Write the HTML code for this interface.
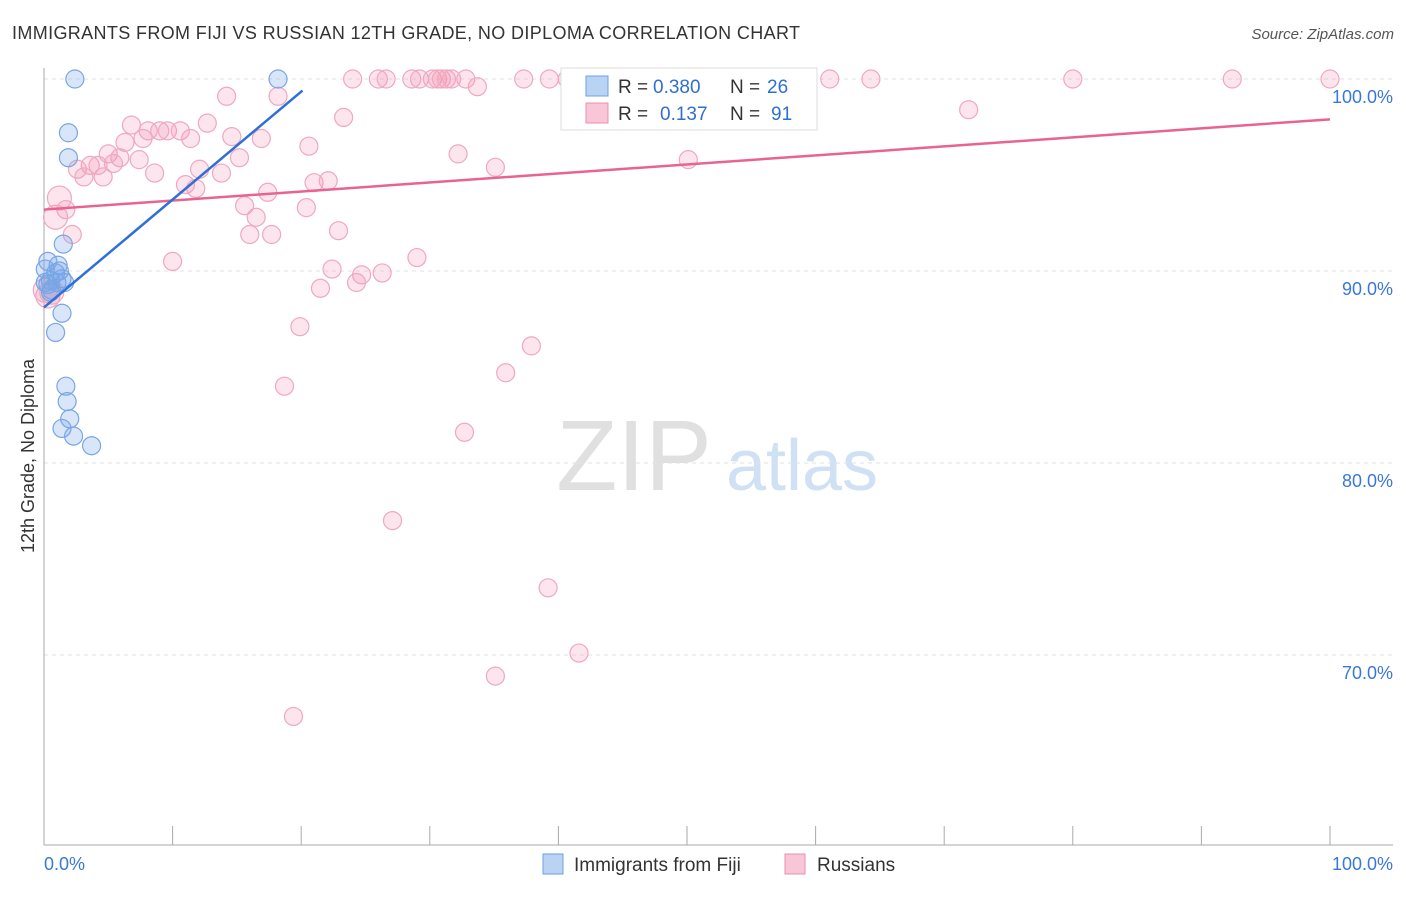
<!DOCTYPE html>
<html><head><meta charset="utf-8"><style>
body{margin:0;background:#fff;font-family:"Liberation Sans",sans-serif;}
svg text{font-family:"Liberation Sans",sans-serif;}
</style></head><body>
<svg id="c" width="1406" height="892">
<text x="12" y="39" font-size="18" fill="#333" textLength="788">IMMIGRANTS FROM FIJI VS RUSSIAN 12TH GRADE, NO DIPLOMA CORRELATION CHART</text>
<text x="1394" y="39" font-size="15" fill="#555" text-anchor="end" font-style="italic">Source: ZipAtlas.com</text>
<text x="34" y="456" font-size="18" fill="#333" text-anchor="middle" transform="rotate(-90 34 456)">12th Grade, No Diploma</text>
<g><text x="634" y="490" font-size="100" fill="#e0e0e0" text-anchor="middle" font-family="Liberation Serif">ZIP</text><text x="802" y="490" font-size="72" fill="#d0e0f5" text-anchor="middle">atlas</text></g>
<g id="grid"></g><g id="axes"></g><g id="pts"></g><g id="lines"></g>
<g>
<rect x="561" y="68" width="256" height="62" fill="#fff" stroke="#ddd"/>
<rect x="586" y="76" width="22" height="20" fill="#b9d3f5" stroke="#6fa0e0"/>
<text x="618" y="93" font-size="19" fill="#333">R =</text>
<text x="653" y="93" font-size="19" fill="#2f6fd0">0.380</text>
<text x="730" y="93" font-size="19" fill="#333">N =</text>
<text x="767" y="93" font-size="19" fill="#2f6fd0">26</text>
<rect x="586" y="103" width="22" height="20" fill="#f8c6d6" stroke="#e890b0"/>
<text x="618" y="120" font-size="19" fill="#333">R =</text>
<text x="660" y="120" font-size="19" fill="#2f6fd0">0.137</text>
<text x="730" y="120" font-size="19" fill="#333">N =</text>
<text x="771" y="120" font-size="19" fill="#2f6fd0">91</text>
</g>
<g>
<rect x="543" y="854" width="20" height="20" fill="#b9d3f5" stroke="#6fa0e0"/>
<text x="574" y="871" font-size="19" fill="#333">Immigrants from Fiji</text>
<rect x="785" y="854" width="20" height="20" fill="#f8c6d6" stroke="#e890b0"/>
<text x="817" y="871" font-size="19" fill="#333">Russians</text>
</g>
</svg>
<script>
const yTicks=[100,90,80,70];
const yTickLabels=["100.0%","90.0%","80.0%","70.0%"];
const xTickLabels=["0.0%","100.0%"];
const fijiX=[2.4,18.2,1.9,1.9,1.5,0.3,1.1,0.1,1.2,0.9,1.4,0.5,1.0,0.3,0.6,1.4,0.9,1.7,1.8,2.0,1.4,2.3,3.7,0.5,0.1,1.6];
const fijiY=[100,100,97.2,95.9,91.4,90.5,90.3,90.1,90.0,89.9,89.6,89.5,89.4,89.3,89.0,87.8,86.8,84.0,83.2,82.3,81.8,81.4,80.9,88.9,89.4,89.4];
const rusX=[24.0,26.0,26.6,28.6,29.2,30.2,30.6,30.9,31.3,31.7,32.8,37.3,39.3,40.7,47.0,51.8,52.3,59.3,61.1,64.3,80.0,92.4,100,
14.2,18.2,33.7,71.9,23.3,6.8,8.1,9.0,9.6,10.6,12.7,11.4,7.7,14.6,16.9,6.3,20.6,5.0,5.9,7.4,15.2,32.2,50.1,3.6,4.2,2.6,5.4,3.1,4.6,8.6,12.1,13.8,11.0,11.8,17.4,21.0,22.1,35.1,1.2,1.7,0.9,15.6,16.5,20.4,2.2,16.0,17.7,22.9,10.0,29.0,22.4,24.7,26.3,24.3,21.5,19.9,37.9,35.9,18.7,32.7,27.1,39.2,41.6,35.1,19.4,0.3,0.1,0.6];
const rusY=[100,100,100,100,100,100,100,100,100,100,100,100,100,100,100,100,100,100,100,100,100,100,100,
99.1,99.1,99.6,98.4,98.0,97.6,97.3,97.3,97.3,97.3,97.7,96.9,96.9,97.0,96.9,96.7,96.5,96.1,95.9,95.8,95.9,96.1,95.8,95.5,95.5,95.3,95.6,94.9,94.9,95.1,95.3,95.1,94.5,94.3,94.1,94.6,94.7,95.4,93.8,93.2,92.8,93.4,92.8,93.3,91.9,91.9,91.9,92.1,90.5,90.7,90.1,89.8,89.9,89.4,89.1,87.1,86.1,84.7,84.0,81.6,77.0,73.5,70.1,68.9,66.8,88.7,89.0,88.9];
const fijiTrend=[0,88.1,20.1,99.4];
const rusTrend=[0,93.2,100,97.9];
const X=v=>44+v*12.86, Y=v=>79+(100-v)*19.2;
const NS="http://www.w3.org/2000/svg";
function mk(p,t,a){const e=document.createElementNS(NS,t);for(const k in a)e.setAttribute(k,a[k]);p.appendChild(e);return e;}
const grid=document.getElementById('grid'),axes=document.getElementById('axes'),pts=document.getElementById('pts'),lines=document.getElementById('lines');
yTicks.forEach((t,i)=>{
 const g=mk(grid,'line',{x1:44,x2:1393,y1:Y(t),y2:Y(t),stroke:'#e2e2e2','stroke-dasharray':'4,4'});
 
 
 const l=mk(axes,'text',{x:1393,y:Y(t)+24,'font-size':18,fill:'#3a78d8','text-anchor':'end'});l.textContent=yTickLabels[i];
 
 
});
const ax=mk(axes,'line',{x1:44,x2:44,y1:68,y2:845,stroke:'#aaa'});


const bx=mk(axes,'line',{x1:44,x2:1393,y1:845,y2:845,stroke:'#aaa'});


for(let i=0;i<=10;i++){const t=mk(axes,'line',{x1:X(i*10),x2:X(i*10),y1:826,y2:845,stroke:'#aaa'});
 
 }
const xl0=mk(axes,'text',{x:44,y:870,'font-size':18,fill:'#3a78d8'});xl0.textContent=xTickLabels[0];


const xl1=mk(axes,'text',{x:1393,y:870,'font-size':18,fill:'#3a78d8','text-anchor':'end'});xl1.textContent=xTickLabels[1];


rusX.forEach((x,i)=>{const big=x<1.5&&rusY[i]<94;const c=mk(pts,'circle',{cx:X(x),cy:Y(rusY[i]),r:big?12:9,fill:'rgba(243,150,180,0.25)',stroke:'#efa8c0','stroke-width':1.2});
 
 });
fijiX.forEach((x,i)=>{const c=mk(pts,'circle',{cx:X(x),cy:Y(fijiY[i]),r:9,fill:'rgba(120,165,235,0.28)',stroke:'#78a6e4','stroke-width':1.2});
 
 });
const rl=mk(lines,'line',{x1:X(rusTrend[0]),y1:Y(rusTrend[1]),x2:X(rusTrend[2]),y2:Y(rusTrend[3]),stroke:'#e8648f','stroke-width':2.5});


const fl=mk(lines,'line',{x1:X(fijiTrend[0]),y1:Y(fijiTrend[1]),x2:X(fijiTrend[2]),y2:Y(fijiTrend[3]),stroke:'#2f6fd8','stroke-width':2.5});


</script>
</body></html>
